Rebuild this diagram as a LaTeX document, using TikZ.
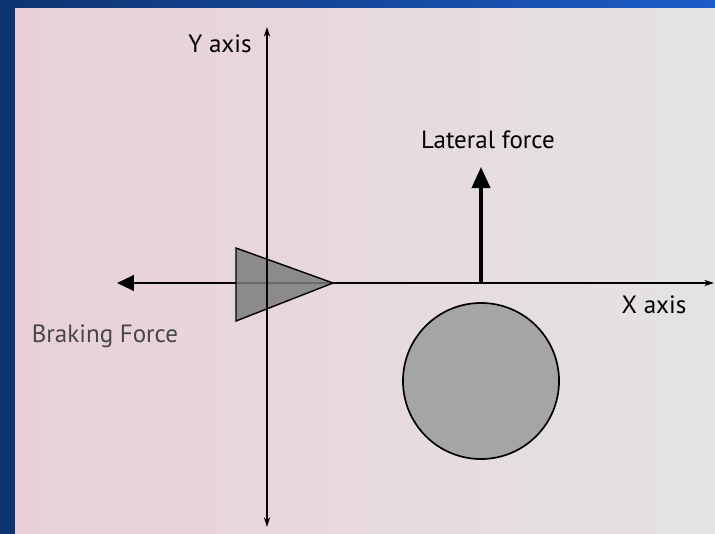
\documentclass[tikz,border=0pt]{standalone}
\usepackage{fontspec}
\setmainfont{PT Sans}
\usetikzlibrary{arrows.meta}
\definecolor{frameL}{RGB}{14,52,112}
\definecolor{frameR}{RGB}{28,92,200}
\definecolor{paperL}{RGB}{233,208,216}
\definecolor{paperR}{RGB}{228,227,228}
\definecolor{tri}{RGB}{125,125,125}
\definecolor{wheel}{RGB}{165,165,165}
\begin{document}
\begin{tikzpicture}[x=0.025cm,y=-0.025cm,
    axis/.style={line width=0.9pt},
    force/.style={line width=1.8pt,-{Triangle[length=12pt,width=11pt]}},
    lbl/.style={font=\fontsize{17.8}{20}\selectfont,inner sep=0pt,anchor=base}]
  % frame and paper
  \shade[left color=frameL,right color=frameR] (0,0) rectangle (715,533);
  \shade[left color=paperL,right color=paperR] (15,8) rectangle (715,533);
  % axes
  \coordinate (ytop) at (267,27);
  \coordinate (ybot) at (267,527);
  \coordinate (xend) at (714,283);
  \coordinate (tipb) at (117,283);
  \coordinate (lat) at (481,167);
  \coordinate (latb) at (481,283);
  \coordinate (ta) at (236,248);
  \coordinate (tb) at (236,321);
  \coordinate (tc) at (333,283);
  \draw[axis,{Stealth[length=7pt,width=4.5pt]}-{Stealth[length=7pt,width=4.5pt]}] (ybot) -- (ytop);
  \draw[axis,-{Stealth[length=7pt,width=4.5pt]}] (tc) -- (xend);
  % braking force
  \draw[force] (tc) -- (tipb);
  \filldraw[fill=tri,fill opacity=0.85,draw=black,line width=1pt] (ta) -- (tc) -- (tb) -- cycle;
  \draw[axis] (ytop |- ta) -- (ytop |- tb);
  % lateral force
  \draw[force,line width=2.2pt,-{Triangle[length=15pt,width=13pt]}] (latb) -- (lat);
  % wheel
  \node[draw,circle,fill=wheel,line width=1.2pt,minimum size=3.9cm,inner sep=0pt] (wheel) at (481,381) {};
  % labels
  \node[lbl] (ylab) at (220,52) {Y axis};
  \node[lbl] (latlab) at (488,148) {Lateral force};
  \node[lbl] (xlab) at (654,313) {X axis};
  \node[lbl,text=black!72] (brklab) at (105,342) {Braking Force};
\end{tikzpicture}
\end{document}
